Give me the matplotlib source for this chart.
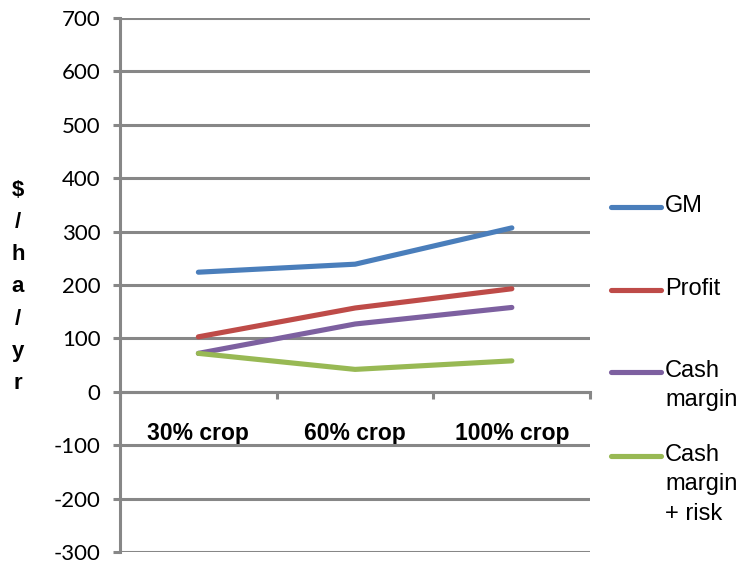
import matplotlib.pyplot as plt
from matplotlib.lines import Line2D

plt.rcParams['axes.unicode_minus'] = False

categories = ['30% crop', '60% crop', '100% crop']
gm = [224, 239, 307]
profit = [103, 157, 193]
cash_margin = [72, 127, 158]
cash_margin_risk = [72, 42, 58]

series_names = ['GM', 'Profit', 'Cash\nmargin', 'Cash\nmargin\n+ risk']
series_colors = ['#4A7EBB', '#BE4B48', '#7D60A0', '#98B954']
series = [gm, profit, cash_margin, cash_margin_risk]

grey = '#878787'

fig = plt.figure(figsize=(7.44, 5.63), dpi=100)
ax = fig.add_axes([0.1613, 0.0195, 0.632, 0.9485])

x = range(len(categories))
for vals, c in zip(series, series_colors):
    ax.plot(x, vals, color=c, lw=3.7, solid_capstyle='round', solid_joinstyle='round', zorder=3)

ax.set_xlim(-0.5, 2.5)
ax.set_ylim(-300, 700)
ax.set_yticks(range(-300, 701, 100))
ax.grid(axis='y', color=grey, lw=2.2)
ax.set_axisbelow(True)

for s in ['top', 'right']:
    ax.spines[s].set_visible(False)
ax.spines['left'].set_color(grey)
ax.spines['left'].set_linewidth(2.2)
ax.spines['bottom'].set_color(grey)
ax.spines['bottom'].set_linewidth(2.2)
ax.spines['bottom'].set_position(('data', 0))

ax.tick_params(axis='y', length=5, width=2.2, color=grey, pad=9, labelsize=16)
for lab in ax.get_yticklabels():
    lab.set_fontfamily('Lato')

ax.set_xticks(list(x))
ax.set_xticklabels(categories, fontfamily='Liberation Sans', fontweight='bold', fontsize=16.5)
ax.tick_params(axis='x', which='major', length=0, pad=22)
ax.set_xticks([-0.5, 0.5, 1.5, 2.5], minor=True)
ax.tick_params(axis='x', which='minor', length=5, width=2.2, color=grey)

# stacked y label
fig.text(18 / 744, 1 - 287 / 563, '$\n/\nh\na\n/\ny\nr', ha='center', va='center',
         fontfamily='Liberation Sans', fontweight='bold', fontsize=16, linespacing=1.7)

# legend drawn on the right
legend_y = [207, 290, 372, 456]
for name, c, yy in zip(series_names, series_colors, legend_y):
    fy = 1 - yy / 563
    fig.add_artist(Line2D([611 / 744, 661 / 744], [fy, fy], color=c, lw=3.7,
                          solid_capstyle='round', transform=fig.transFigure))
    fig.text(665 / 744, fy + 12 / 563, name, ha='left', va='top',
             fontfamily='Liberation Sans', fontsize=17, linespacing=1.43)

fig.savefig('out.png', dpi=100)
